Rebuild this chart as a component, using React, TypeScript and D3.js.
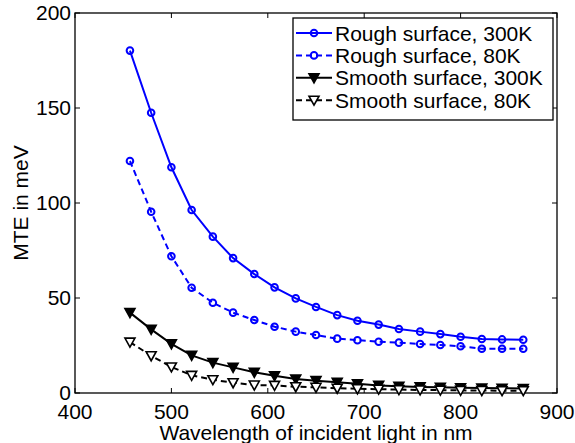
import React, { useEffect, useRef } from "react";
import * as d3 from "d3";

// wavelength of incident light (nm)
const wavelengths = [457, 479, 500, 521, 543, 564, 586, 607, 629, 650, 672, 693, 715, 736, 758, 779, 800, 822, 843, 865];

// MTE in meV
const rough300 = [180.2, 147.5, 118.8, 96.3, 82.3, 71, 62.6, 55.6, 49.8, 45.3, 41, 38, 36, 33.7, 32.3, 31, 29.6, 28.4, 28.2, 28];
const rough80 = [122.1, 95.4, 72, 55.4, 47.5, 42.3, 38.4, 34.9, 32.3, 30.5, 28.6, 27.8, 27, 26.5, 25.8, 25.3, 24.6, 23.3, 23.3, 23.3];
const smooth300 = [42.3, 33.5, 25.9, 19.8, 16, 13.5, 10.9, 9.1, 7.4, 6.5, 5.6, 4.9, 4, 3.5, 3.2, 3, 2.8, 2.6, 2.5, 2.4];
const smooth80 = [26.8, 19.6, 13.7, 9.3, 7, 5.4, 4.2, 4, 3.3, 3, 2.5, 2.2, 2, 1.8, 1.6, 1.5, 1.4, 1.3, 1.2, 1.2];

const seriesNames = ["Rough surface, 300K", "Rough surface, 80K", "Smooth surface, 300K", "Smooth surface, 80K"];

const xTicks = [400, 500, 600, 700, 800, 900];
const yTicks = [0, 50, 100, 150, 200];

const FONT = "'Liberation Sans', Arial, Helvetica, sans-serif";

export default function App() {
  const ref = useRef<SVGSVGElement>(null);

  useEffect(() => {
    const width = 575,
      height = 443;
    const margin = { top: 13, right: 18, bottom: 50, left: 75 };
    const innerWidth = width - margin.left - margin.right;
    const innerHeight = height - margin.top - margin.bottom;

    const svg = d3.select(ref.current);
    svg.selectAll("*").remove();
    const g = svg.append("g").attr("transform", `translate(${margin.left},${margin.top})`);

    const x_Scale = d3.scaleLinear().domain([400, 900]).range([0, innerWidth]);
    const y_Scale = d3.scaleLinear().domain([0, 200]).range([innerHeight, 0]);

    const series = [
      { name: seriesNames[0], values: rough300, color: "#0000ff", dash: null, marker: "circle" },
      { name: seriesNames[1], values: rough80, color: "#0000ff", dash: "6,4", marker: "circle" },
      { name: seriesNames[2], values: smooth300, color: "#000000", dash: null, marker: "tri-filled" },
      { name: seriesNames[3], values: smooth80, color: "#000000", dash: "6,4", marker: "tri-open" },
    ];

    const tri = "M-5,-4L5,-4L0,5Z";

    const drawMarker = (sel: any, s: any) => {
      if (s.marker === "circle") {
        sel
          .append("circle")
          .attr("r", 3.3)
          .attr("fill", "none")
          .attr("stroke", s.color)
          .attr("stroke-width", 2);
      } else {
        sel
          .append("path")
          .attr("d", tri)
          .attr("fill", s.marker === "tri-filled" ? "#000" : "#fff")
          .attr("stroke", s.color)
          .attr("stroke-width", 1.6)
          .attr("stroke-linejoin", "miter");
      }
    };

    // box
    g.append("rect")
      .attr("width", innerWidth)
      .attr("height", innerHeight)
      .attr("fill", "none")
      .attr("stroke", "#000")
      .attr("stroke-width", 1.3);

    // ticks (inward, on all sides)
    const tickLen = 5;
    xTicks.forEach((t) => {
      const px = x_Scale(t);
      g.append("line").attr("x1", px).attr("x2", px).attr("y1", innerHeight).attr("y2", innerHeight - tickLen).attr("stroke", "#000");
      g.append("line").attr("x1", px).attr("x2", px).attr("y1", 0).attr("y2", tickLen).attr("stroke", "#000");
      g.append("text")
        .attr("x", px)
        .attr("y", innerHeight + 26)
        .attr("text-anchor", "middle")
        .attr("font-family", FONT)
        .attr("font-size", 21)
        .text(t);
    });
    yTicks.forEach((t) => {
      const py = y_Scale(t);
      g.append("line").attr("x1", 0).attr("x2", tickLen).attr("y1", py).attr("y2", py).attr("stroke", "#000");
      g.append("line").attr("x1", innerWidth).attr("x2", innerWidth - tickLen).attr("y1", py).attr("y2", py).attr("stroke", "#000");
      g.append("text")
        .attr("x", -4)
        .attr("y", py + 7)
        .attr("text-anchor", "end")
        .attr("font-family", FONT)
        .attr("font-size", 21)
        .text(t);
    });

    // axis labels
    g.append("text")
      .attr("x", innerWidth / 2)
      .attr("y", innerHeight + 47)
      .attr("text-anchor", "middle")
      .attr("font-family", FONT)
      .attr("font-size", 21)
      .text("Wavelength of incident light in nm");
    g.append("text")
      .attr("transform", `translate(${-47},${innerHeight / 2}) rotate(-90)`)
      .attr("text-anchor", "middle")
      .attr("font-family", FONT)
      .attr("font-size", 21)
      .text("MTE in meV");

    // lines + markers
    series.forEach((s) => {
      const pts = wavelengths.map((w, i) => [w, s.values[i]] as [number, number]);
      const line = d3
        .line<[number, number]>()
        .x((d) => x_Scale(d[0]))
        .y((d) => y_Scale(d[1]));
      g.append("path")
        .attr("d", line(pts))
        .attr("fill", "none")
        .attr("stroke", s.color)
        .attr("stroke-width", 2)
        .attr("stroke-dasharray", s.dash);
      pts.forEach((d) => {
        const m = g.append("g").attr("transform", `translate(${x_Scale(d[0])},${y_Scale(d[1])})`);
        drawMarker(m, s);
      });
    });

    // legend
    const lg = svg.append("g").attr("transform", "translate(293,18)");
    lg.append("rect")
      .attr("width", 260)
      .attr("height", 102)
      .attr("fill", "#fff")
      .attr("stroke", "#000")
      .attr("stroke-width", 1.3);
    series.forEach((s, i) => {
      const cy = 15 + i * 22.4;
      lg.append("line")
        .attr("x1", 3)
        .attr("x2", 39)
        .attr("y1", cy)
        .attr("y2", cy)
        .attr("stroke", s.color)
        .attr("stroke-width", 2)
        .attr("stroke-dasharray", s.dash);
      const m = lg.append("g").attr("transform", `translate(21,${cy})`);
      drawMarker(m, s);
      lg.append("text")
        .attr("x", 42)
        .attr("y", cy + 7.5)
        .attr("font-family", FONT)
        .attr("font-size", 21)
        .text(s.name);
    });
  }, []);

  return (
    <div>
      <svg ref={ref} width={575} height={443} style={{ position: "absolute", left: 0, top: 0, background: "#fff" }} />
    </div>
  );
}
